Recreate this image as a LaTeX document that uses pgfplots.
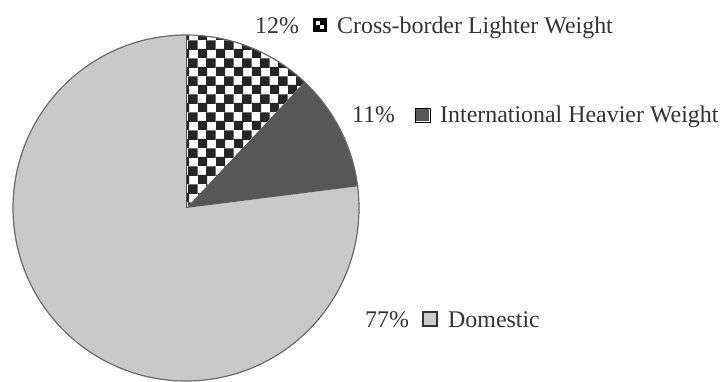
\documentclass[border=0pt]{standalone}
\usepackage{fontspec}
\setmainfont{Liberation Serif}
\usepackage{pgfplots}
\usepackage{pgfplotstable}
\pgfplotsset{compat=1.18}
\usetikzlibrary{patterns}

\pgfdeclarepatternformonly{mycheck}{\pgfpointorigin}{\pgfqpoint{18bp}{18bp}}{\pgfqpoint{18bp}{18bp}}{%
  \pgfpathrectangle{\pgfqpoint{-0.5bp}{-0.5bp}}{\pgfqpoint{10bp}{10bp}}%
  \pgfpathrectangle{\pgfqpoint{8.5bp}{8.5bp}}{\pgfqpoint{10bp}{10bp}}%
  \pgfusepath{fill}}

\definecolor{domgray}{HTML}{C9C9C9}
\definecolor{intgray}{HTML}{575757}
\definecolor{edgegray}{HTML}{6A6A6A}
\definecolor{txt}{HTML}{333333}

\pgfplotstableread[col sep=comma]{
segment,pct
Cross-border Lighter Weight,12
International Heavier Weight,11
Domestic,77
}\piedata

\pgfplotstablegetelem{0}{pct}\of\piedata \let\pA\pgfplotsretval
\pgfplotstablegetelem{1}{pct}\of\piedata \let\pB\pgfplotsretval
\pgfplotstablegetelem{2}{pct}\of\piedata \let\pC\pgfplotsretval
\pgfmathsetmacro{\aA}{90-3.6*\pA}
\pgfmathsetmacro{\aB}{\aA-3.6*\pB}
\pgfmathsetmacro{\aC}{\aB-3.6*\pC}

\begin{document}
\begin{tikzpicture}
\begin{axis}[
  scale only axis, width=724bp, height=382bp,
  xmin=0, xmax=724, ymin=0, ymax=382, y dir=reverse,
  hide axis, clip=true,
]
\def\R{173bp}
% Domestic
\fill[domgray] (axis cs:186,208) -- ++(\aB:\R) arc[start angle=\aB, end angle=\aC, radius=\R] -- cycle;
% International
\fill[intgray] (axis cs:186,208) -- ++(\aA:\R) arc[start angle=\aA, end angle=\aB, radius=\R] -- cycle;
% Cross-border
\fill[white] (axis cs:186,208) -- ++(90:\R) arc[start angle=90, end angle=\aA, radius=\R] -- cycle;
\fill[pattern=mycheck, pattern color=black!85] (axis cs:186,208) -- ++(90:\R) arc[start angle=90, end angle=\aA, radius=\R] -- cycle;
\draw[edgegray, line width=1.2bp] (axis cs:186,208) circle[radius=\R];
\draw[black!70, line width=1bp] (axis cs:186,208) -- ++(90:\R);

% labels
\begin{scope}[every node/.style={font=\fontsize{24}{26}\selectfont, text=txt, inner sep=0pt, anchor=base west}]
\node at (axis cs:255,33) {\pA\%};
\node at (axis cs:337,33) {Cross-border Lighter Weight};
\node at (axis cs:352,122) {\pB\%};
\node at (axis cs:440,122) {International Heavier Weight};
\node at (axis cs:365,327) {\pC\%};
\node at (axis cs:448,327) {Domestic};
\end{scope}
% legend boxes
\fill[black] (axis cs:313,18) rectangle (axis cs:327,32);
\fill[white] (axis cs:316,21) rectangle (axis cs:320,25);
\fill[white] (axis cs:320,25) rectangle (axis cs:324,29);
\draw[black, line width=0.8bp] (axis cs:415,108) rectangle (axis cs:430,122);
\fill[intgray] (axis cs:416,109) rectangle (axis cs:429,121);
\draw[black!80, line width=1.2bp, fill=domgray] (axis cs:423,312) rectangle (axis cs:437,326);
\end{axis}
\pgfresetboundingbox
\useasboundingbox (current axis.south west) rectangle (current axis.north east);
\end{tikzpicture}
\end{document}
